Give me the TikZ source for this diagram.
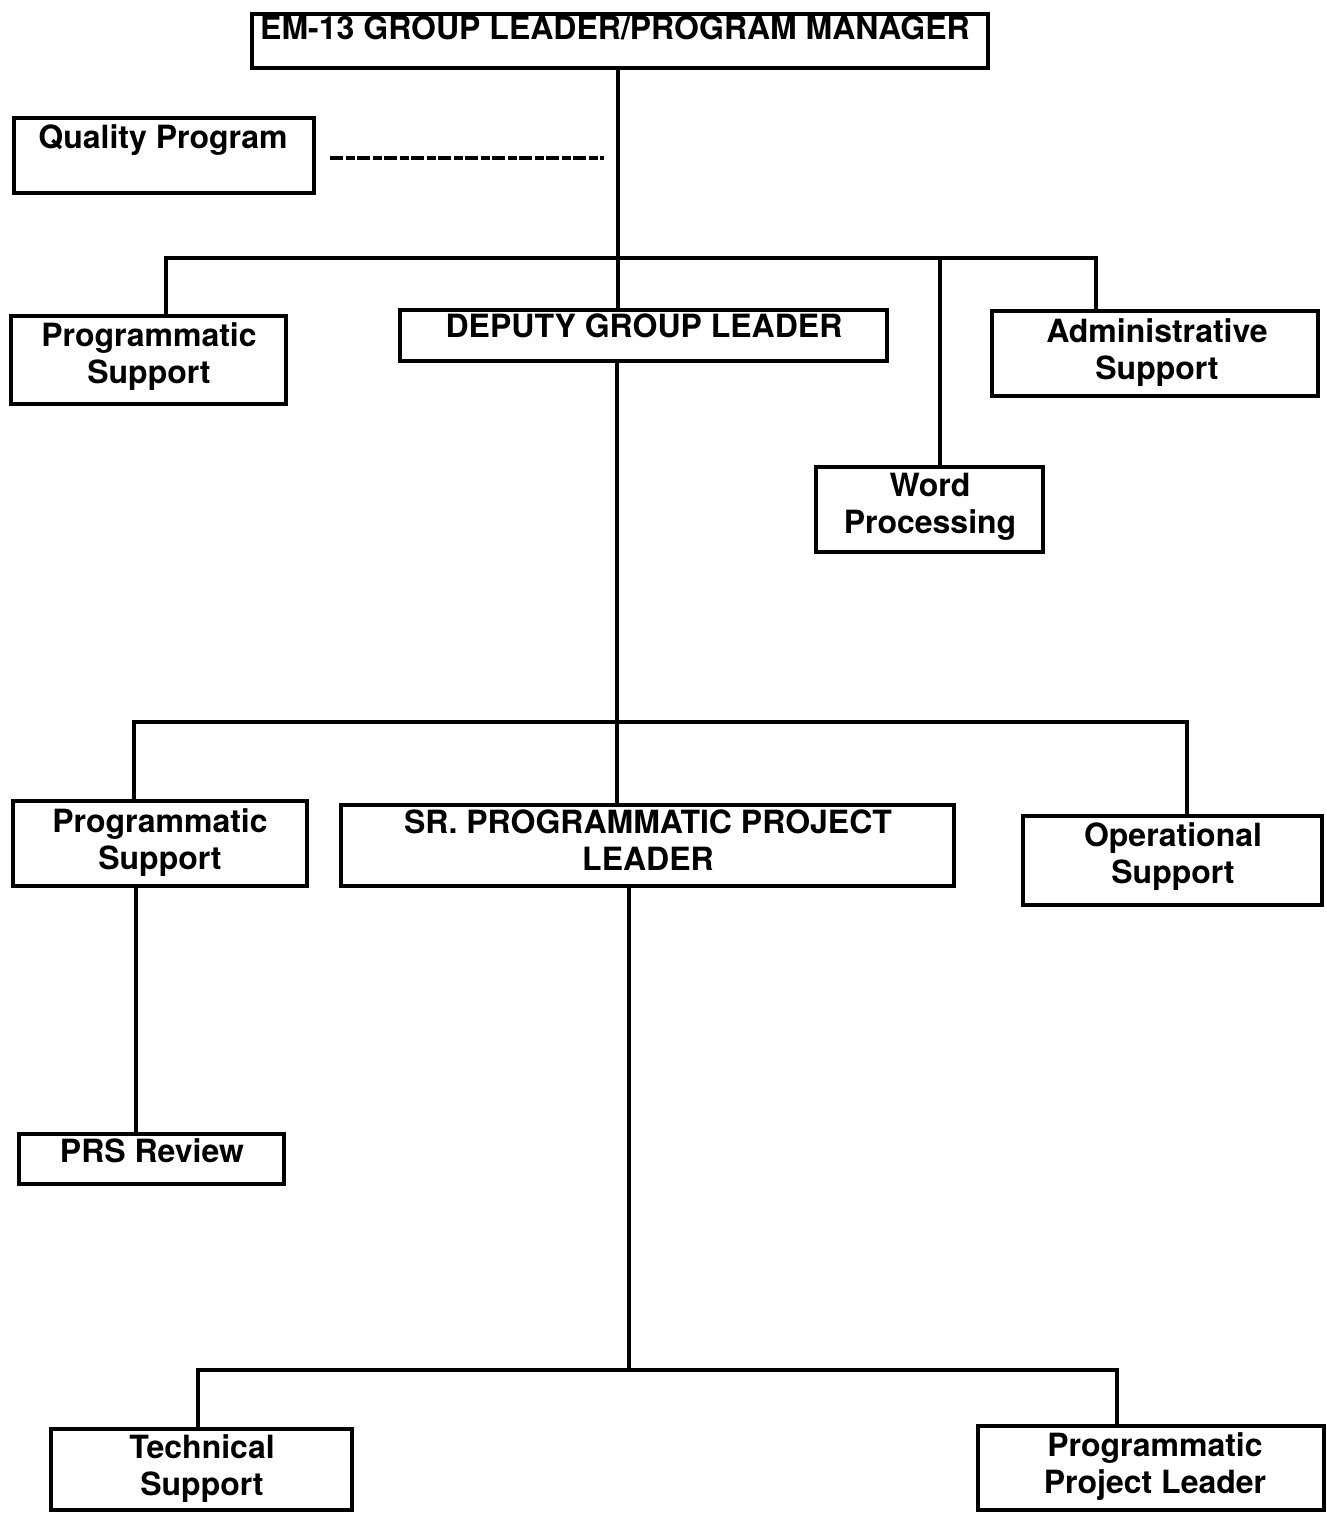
\documentclass[tikz,border=0pt]{standalone}
\usepackage{fontspec}
\setmainfont{TeX Gyre Heros}
\begin{document}
\begin{tikzpicture}[x=1pt,y=-1pt,
  orgbox/.style={draw, line width=3.6pt, inner sep=0pt, outer sep=0pt},
  lbl/.style={anchor=north, inner sep=0pt, align=center,
    font=\bfseries\fontsize{32}{37}\selectfont},
  link/.style={line width=3.6pt},
  qlink/.style={line width=3.2pt, dash pattern=on 13pt off 2.5pt on 9pt off 2.5pt}]
\useasboundingbox (0,0) rectangle (1327,1513);

% ---- boxes ----
\node[orgbox, minimum width=736pt, minimum height=54pt] (gl)  at (620,41)     {};
\node[orgbox, minimum width=300pt, minimum height=75pt] (qp)  at (164,155.5)  {};
\node[orgbox, minimum width=275pt, minimum height=88pt] (ps1) at (148.5,360)  {};
\node[orgbox, minimum width=487pt, minimum height=51pt] (dep) at (643.5,335.5){};
\node[orgbox, minimum width=326pt, minimum height=85pt] (adm) at (1155,353.5) {};
\node[orgbox, minimum width=227pt, minimum height=85pt] (wp)  at (929.5,509.5){};
\node[orgbox, minimum width=294pt, minimum height=85pt] (ps2) at (160,843.5)  {};
\node[orgbox, minimum width=613pt, minimum height=81pt] (sr)  at (647.5,845.5){};
\node[orgbox, minimum width=299pt, minimum height=89pt] (ops) at (1172.5,860.5){};
\node[orgbox, minimum width=265pt, minimum height=50pt] (prs) at (151.5,1159) {};
\node[orgbox, minimum width=301pt, minimum height=81pt] (ts)  at (201.5,1469.5){};
\node[orgbox, minimum width=346pt, minimum height=84pt] (ppl) at (1151,1468)  {};

% ---- labels ----
\node[lbl] (gl-t)  at (615,16)    {EM-13 GROUP LEADER/PROGRAM MANAGER};
\node[lbl] (qp-t)  at (163,124)   {Quality Program};
\node[lbl] (ps1-t) at (149,322)   {Programmatic\\Support};
\node[lbl] (dep-t) at (644,314)   {DEPUTY GROUP LEADER};
\node[lbl] (adm-t) at (1157,318)  {Administrative\\Support};
\node[lbl] (wp-t)  at (930,473)   {Word\\Processing};
\node[lbl] (ps2-t) at (160,808)   {Programmatic\\Support};
\node[lbl] (sr-t)  at (648,810)   {SR. PROGRAMMATIC PROJECT\\LEADER};
\node[lbl] (ops-t) at (1173,822)  {Operational\\Support};
\node[lbl] (prs-t) at (152,1138)  {PRS Review};
\node[lbl] (ts-t)  at (202,1434)  {Technical\\Support};
\node[lbl] (ppl-t) at (1155,1432) {Programmatic\\Project Leader};

% ---- first level: group leader ----
\coordinate (b1)  at (618,258);
\coordinate (b1w) at (166,258);
\coordinate (b1m) at (940,258);
\coordinate (b1e) at (1096,258);
\draw[link] (b1 |- gl.south) -- (b1 |- dep.north);
\draw[link] (b1w |- ps1.north) -- (b1w) -- (b1e) -- (b1e |- adm.north);
\draw[link] (b1m) -- (b1m |- wp.north);

% quality program liaison
\coordinate (qa) at (330,158);
\coordinate (qb) at (604,158);
\draw[qlink] (qa) -- (qb);

% ---- second level: deputy ----
\coordinate (b2)  at (617,722);
\coordinate (b2w) at (134,722);
\coordinate (b2e) at (1187,722);
\draw[link] (b2 |- dep.south) -- (b2 |- sr.north);
\draw[link] (b2w |- ps2.north) -- (b2w) -- (b2e) -- (b2e |- ops.north);
\coordinate (prsx) at (136,1000);
\draw[link] (prsx |- ps2.south) -- (prsx |- prs.north);

% ---- third level: senior project leader ----
\coordinate (b3)  at (629,1370);
\coordinate (b3w) at (198,1370);
\coordinate (b3e) at (1117,1370);
\draw[link] (b3 |- sr.south) -- (b3);
\draw[link] (b3w |- ts.north) -- (b3w) -- (b3e) -- (b3e |- ppl.north);
\end{tikzpicture}
\end{document}
